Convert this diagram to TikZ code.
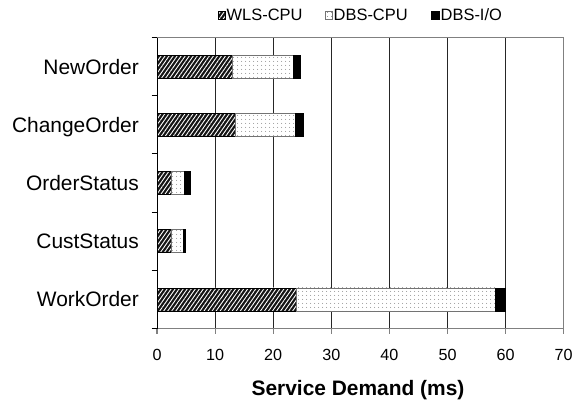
\documentclass[tikz,border=0pt]{standalone}
\usepackage{fontspec}
\setmainfont{Liberation Sans}
\usetikzlibrary{patterns,patterns.meta}

\tikzset{
  wlsfill/.style={preaction={fill=black!92},
    preaction={pattern={Lines[angle=55,distance=3.3bp,line width=0.9bp]}, pattern color=white},
    draw=black, line width=0.8bp},
  dbsfill/.style={preaction={fill=white},
    preaction={pattern={Dots[distance=3.6bp,radius=0.45bp]}, pattern color=black!70},
    draw=black!55, line width=0.8bp},
  iofill/.style={fill=black, draw=black, line width=0.8bp},
  gridline/.style={draw=black!85, line width=0.9bp},
  framegray/.style={draw=black!50, line width=1.1bp},
  catlabel/.style={font=\fontsize{21}{25}\selectfont, inner sep=0pt},
  ticklabel/.style={font=\fontsize{16.2}{19}\selectfont, inner sep=0pt, anchor=base},
  legendtext/.style={font=\fontsize{16.5}{19}\selectfont, inner sep=0pt, anchor=base west},
  titlelabel/.style={font=\bfseries\fontsize{21}{25}\selectfont, inner sep=0pt, anchor=base}
}

\begin{document}
\begin{tikzpicture}[x=1bp,y=-1bp]
\useasboundingbox[fill=white] (0,0) rectangle (574,401);

% plot geometry: x0 = 157, 5.81 per ms; top 37.5, bottom 328.5, band 58.2
\def\xo{157}
\def\xs{5.81}
\def\ytop{37.5}
\def\ybot{328.5}
\def\band{58.2}

% vertical grid lines
\foreach \v in {10,20,...,60}
  \draw[gridline] ({\xo+\xs*\v},\ytop) -- ({\xo+\xs*\v},\ybot);

% frame: top and right sides
\draw[framegray] (\xo,\ytop) -- ({\xo+\xs*70},\ytop) -- ({\xo+\xs*70},\ybot);

% stacked bars
\foreach \lab/\a/\b/\c [count=\i] in {
    NewOrder/12.9/23.5/24.6,
    ChangeOrder/13.5/23.8/25.2,
    OrderStatus/2.5/4.8/5.7,
    CustStatus/2.5/4.6/4.9,
    WorkOrder/24.0/58.2/59.9} {
  \pgfmathsetmacro\yc{\ytop+\band*(\i-0.5)}
  \pgfmathsetmacro\ya{\yc-11.5}
  \pgfmathsetmacro\yb{\yc+11.5}
  \path[wlsfill] (\xo,\ya) rectangle ({\xo+\xs*\a},\yb);
  \path[dbsfill] ({\xo+\xs*\a},\ya) rectangle ({\xo+\xs*\b},\yb);
  \path[iofill] ({\xo+\xs*\b},\ya) rectangle ({\xo+\xs*\c},\yb);
  \node[catlabel, anchor=base east] (cat\i) at (139,{\yc+7.4}) {\lab};
}

% x axis with ticks
\draw[framegray] (\xo,\ybot) -- ({\xo+\xs*70},\ybot);
\foreach \v in {0,10,...,70} {
  \draw[framegray] ({\xo+\xs*\v},\ybot) -- ({\xo+\xs*\v},{\ybot+5.5});
  \node[ticklabel] (tick\v) at ({\xo+\xs*\v},360) {\v};
}

% y axis with category ticks
\draw[draw=black, line width=1bp] (\xo,\ytop) -- (\xo,\ybot);
\foreach \k in {0,...,5}
  \draw[draw=black, line width=1bp] ({\xo-5.5},{\ytop+\band*\k}) -- (\xo,{\ytop+\band*\k});

% axis title
\node[titlelabel] (xtitle) at (358,395) {Service Demand (ms)};

% legend
\path[wlsfill, line width=0.6bp] (218,11.5) rectangle (225,19.5);
\node[legendtext] (legwls) at (226.5,20.8) {WLS-CPU};
\path[dbsfill, line width=0.6bp] (325,11.5) rectangle (332,19.5);
\node[legendtext] (legdbs) at (333.5,20.8) {DBS-CPU};
\path[iofill, line width=0.6bp] (431,11.5) rectangle (439,19.5);
\node[legendtext] (legio) at (440.5,20.8) {DBS-I/O};
\end{tikzpicture}
\end{document}
